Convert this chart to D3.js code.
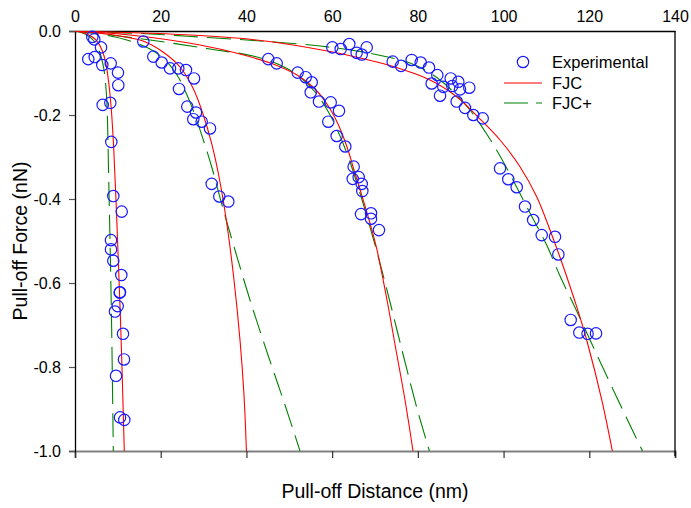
<!DOCTYPE html>
<html>
<head>
<meta charset="utf-8">
<script src="https://cdn.jsdelivr.net/npm/d3@7"></script>
<style>
html,body{margin:0;padding:0;background:#fff;}
svg{display:block;font-family:"Liberation Sans",Arial,sans-serif;}
</style>
</head>
<body>
<svg id="chart" width="691" height="508"></svg>
<script>
// ---- data ----
const xTicks = [0, 20, 40, 60, 80, 100, 120, 140];
const yTicks = [0, -0.2, -0.4, -0.6, -0.8, -1.0];

const experimental = [
  [4.04,-0.014],[4.5,-0.020],[6.07,-0.039],[3.1,-0.067],[4.6,-0.062],[6.37,-0.081],[8.33,-0.077],
  [10.03,-0.099],[10.1,-0.129],[6.46,-0.176],[8.24,-0.171],[8.47,-0.264],[8.94,-0.393],[10.9,-0.430],
  [8.4,-0.498],[8.4,-0.52],[8.94,-0.547],[10.8,-0.581],[10.43,-0.623],[10.5,-0.622],[9.96,-0.655],
  [9.33,-0.668],[11.2,-0.721],[11.43,-0.782],[9.57,-0.821],[10.5,-0.92],[11.5,-0.926],
  [15.94,-0.025],[18.27,-0.061],[20.23,-0.075],[22.17,-0.089],[24.1,-0.089],[25.9,-0.093],[27.77,-0.113],
  [24.27,-0.138],[26.2,-0.180],[28.23,-0.194],[27.6,-0.21],[29.56,-0.216],[31.5,-0.232],[31.9,-0.364],
  [33.67,-0.394],[35.77,-0.406],
  [45.1,-0.067],[47.06,-0.077],[51.96,-0.099],[53.83,-0.110],[55.23,-0.122],[55,-0.146],[56.93,-0.168],
  [59.66,-0.170],[61.6,-0.190],[59.1,-0.216],[61.06,-0.25],[63.07,-0.275],[65.02,-0.323],[64.8,-0.352],
  [66.2,-0.348],[66.9,-0.364],[67.04,-0.381],[66.73,-0.436],[69.07,-0.434],[69.07,-0.447],[70.93,-0.474],
  [60.04,-0.039],[62,-0.043],[64,-0.031],[65.72,-0.052],[66.9,-0.056],[68.06,-0.039],
  [74.13,-0.073],[76.07,-0.083],[78.56,-0.069],[80.66,-0.075],[82.6,-0.087],[84.54,-0.105],[83.22,-0.125],
  [85.94,-0.133],[85.17,-0.154],[87.66,-0.113],[89.44,-0.121],[88.04,-0.131],[89.83,-0.139],[92,-0.135],
  [89.06,-0.168],[91,-0.183],[92.94,-0.2],[95.13,-0.208],
  [99.17,-0.327],[101.1,-0.353],[103.07,-0.372],[105,-0.418],[106.9,-0.45],[108.9,-0.486],[112,-0.49],
  [112.78,-0.532],[115.66,-0.688],[117.67,-0.718],[119.6,-0.721],[121.57,-0.72]
];

const fjc1 = [[0,0],[3.03,-0.0083],[4.9,-0.0214],[6.3,-0.0452],[7.23,-0.0786],[7.93,-0.1286],[8.52,-0.1929],[9.05,-0.2833],[9.57,-0.4024],[10.1,-0.5452],[10.62,-0.6881],[11.08,-0.8429],[11.5,-1.0]];
const fjc2 = [[0,0],[8.17,-0.0083],[15.87,-0.0238],[20.53,-0.05],[24.5,-0.0857],[27.53,-0.1357],[29.87,-0.1976],[31.97,-0.2714],[33.83,-0.3595],[35.47,-0.4619],[37.1,-0.5929],[38.5,-0.7357],[39.43,-0.8667],[40,-1.0]];
const fjc3 = [[0,0],[12.83,-0.0095],[29.17,-0.0333],[38.5,-0.0548],[46.2,-0.0786],[51.8,-0.1048],[55.77,-0.1357],[58.8,-0.1738],[61.37,-0.2214],[63.47,-0.2762],[65.1,-0.331],[66.97,-0.3929],[68.83,-0.4571],[70.47,-0.5214],[72.8,-0.6405],[74.9,-0.7595],[77,-0.8786],[78.87,-1.0]];
const fjc4 = [[0,0],[17.5,-0.0055],[29.17,-0.0107],[38.5,-0.0174],[47.83,-0.0286],[59.5,-0.0488],[66.5,-0.0643],[73.5,-0.0821],[82.83,-0.1167],[89.13,-0.1571],[94.03,-0.2048],[99.17,-0.2595],[103.83,-0.3231],[107.73,-0.3945],[110.83,-0.4738],[113.94,-0.5612],[117.06,-0.6564],[119.39,-0.7357],[122.92,-0.8786],[125.39,-1.0]];

const fjcp1 = [[0,0],[2.57,-0.0083],[4.43,-0.0238],[5.83,-0.0524],[6.77,-0.0929],[7.3,-0.1452],[7.58,-0.2119],[7.82,-0.331],[8.17,-0.4976],[8.56,-0.7119],[8.94,-1.0]];
const fjcp2 = [[0,0],[7,-0.0095],[12.83,-0.0238],[17.5,-0.0429],[21,-0.069],[23.8,-0.1048],[26.13,-0.1524],[28.23,-0.2071],[30.1,-0.2643],[31.97,-0.3262],[34.3,-0.4143],[37.33,-0.5214],[40.83,-0.6405],[45.03,-0.7714],[49,-0.8905],[52.5,-1.0]];
const fjcp3 = [[0,0],[17.5,-0.0214],[31.5,-0.0429],[41.53,-0.0595],[47.83,-0.081],[52.5,-0.1095],[56.23,-0.1476],[59.27,-0.1952],[61.83,-0.25],[64.17,-0.3119],[66.27,-0.3786],[68.37,-0.45],[70.47,-0.5262],[72.8,-0.6167],[75.13,-0.7119],[77.47,-0.8071],[80.03,-0.9071],[82.7,-1.0]];
const fjcp4 = [[0,0],[17.5,-0.0071],[29.17,-0.0143],[40.06,-0.0214],[47.83,-0.0274],[57.17,-0.0357],[67.2,-0.05],[73.5,-0.0631],[78.17,-0.0762],[81.67,-0.0929],[85.17,-0.1167],[89.06,-0.1524],[92.17,-0.1881],[96.06,-0.2452],[99.17,-0.2976],[102.2,-0.3548],[106.17,-0.4333],[110.06,-0.5095],[113.17,-0.5833],[117.06,-0.6667],[120.93,-0.7524],[126.7,-0.8786],[132.42,-1.0]];

const fjcCurves = [fjc1, fjc2, fjc3, fjc4];
const fjcPlusCurves = [fjcp1, fjcp2, fjcp3, fjcp4];
const legendLabels = ["Experimental", "FJC", "FJC+"];

// ---- layout ----
const L = 75, R = 675, T = 31, B = 451;
const svg = d3.select("#chart");
const x = d3.scaleLinear().domain([0, 140]).range([L, R]);
const y = d3.scaleLinear().domain([0, -1]).range([T, B]);

svg.append("defs").append("clipPath").attr("id","clip")
  .append("rect").attr("x",L).attr("y",T).attr("width",R-L).attr("height",B-T);

const fmt = d => (Math.abs(d) < 1e-9 ? 0 : d).toFixed(1);

// top axis with labels
const gTop = svg.append("g").attr("transform",`translate(0,${T})`)
  .call(d3.axisTop(x).tickValues(xTicks).tickSize(0).tickPadding(9).tickFormat(d3.format("d")));
gTop.select(".domain").attr("stroke","#000").attr("stroke-width",1.3);
gTop.selectAll("text").attr("font-size",16).attr("fill","#000").attr("font-family","Liberation Sans, Arial, sans-serif");

// bottom axis ticks only
const gBot = svg.append("g").attr("transform",`translate(0,${B})`)
  .call(d3.axisBottom(x).tickValues(xTicks).tickSize(7).tickFormat(""));
gBot.select(".domain").attr("stroke","#808080").attr("stroke-width",2);
gBot.selectAll(".tick line").attr("stroke","#333").attr("stroke-width",1.2);

// left axis
const gLeft = svg.append("g").attr("transform",`translate(${L},0)`)
  .call(d3.axisLeft(y).tickValues(yTicks).tickSize(6).tickPadding(8).tickFormat(fmt));
gLeft.select(".domain").attr("stroke","#000").attr("stroke-width",1.3);
gLeft.selectAll(".tick line").attr("stroke","#555").attr("stroke-width",1.2);
gLeft.selectAll("text").attr("font-size",16).attr("fill","#000").attr("font-family","Liberation Sans, Arial, sans-serif");

// right frame line
svg.append("line").attr("x1",R).attr("x2",R).attr("y1",T).attr("y2",B+5)
  .attr("stroke","#000").attr("stroke-width",1.3);

// curves
const line = d3.line().x(d => x(d[0])).y(d => y(d[1])).curve(d3.curveCatmullRom.alpha(0.5));
const plot = svg.append("g").attr("clip-path","url(#clip)");
plot.selectAll(".fjcp").data(fjcPlusCurves).join("path").attr("class","fjcp")
  .attr("d", line).attr("fill","none").attr("stroke","#008000").attr("stroke-width",1.1)
  .attr("stroke-dasharray","24,9");
plot.selectAll(".fjc").data(fjcCurves).join("path").attr("class","fjc")
  .attr("d", line).attr("fill","none").attr("stroke","#ff0000").attr("stroke-width",1.1);

// experimental points
svg.append("g").selectAll("circle").data(experimental).join("circle")
  .attr("cx", d => x(d[0])).attr("cy", d => y(d[1])).attr("r",5.7)
  .attr("fill","none").attr("stroke","#1a1aff").attr("stroke-width",1.2);

// legend
const lg = svg.append("g");
lg.append("circle").attr("cx",523).attr("cy",62).attr("r",5.7).attr("fill","none").attr("stroke","#1a1aff").attr("stroke-width",1.2);
lg.append("line").attr("x1",504).attr("x2",542).attr("y1",83).attr("y2",83).attr("stroke","#ff0000").attr("stroke-width",1.1);
lg.append("line").attr("x1",504).attr("x2",542).attr("y1",103).attr("y2",103).attr("stroke","#008000").attr("stroke-width",1.1).attr("stroke-dasharray","24,8");
lg.selectAll("text").data(legendLabels).join("text")
  .attr("x",552).attr("y",(d,i)=>[62,83,103][i]).attr("dy","0.35em")
  .attr("font-size",16.5).attr("fill","#000").text(d=>d);

// axis titles
svg.append("text").attr("x",(L+R)/2).attr("y",498).attr("text-anchor","middle")
  .attr("font-size",19.5).attr("fill","#000").text("Pull-off Distance (nm)");
svg.append("text").attr("transform",`translate(27,${(T+B)/2}) rotate(-90)`).attr("text-anchor","middle")
  .attr("font-size",19.5).attr("fill","#000").text("Pull-off Force (nN)");
</script>
</body>
</html>
